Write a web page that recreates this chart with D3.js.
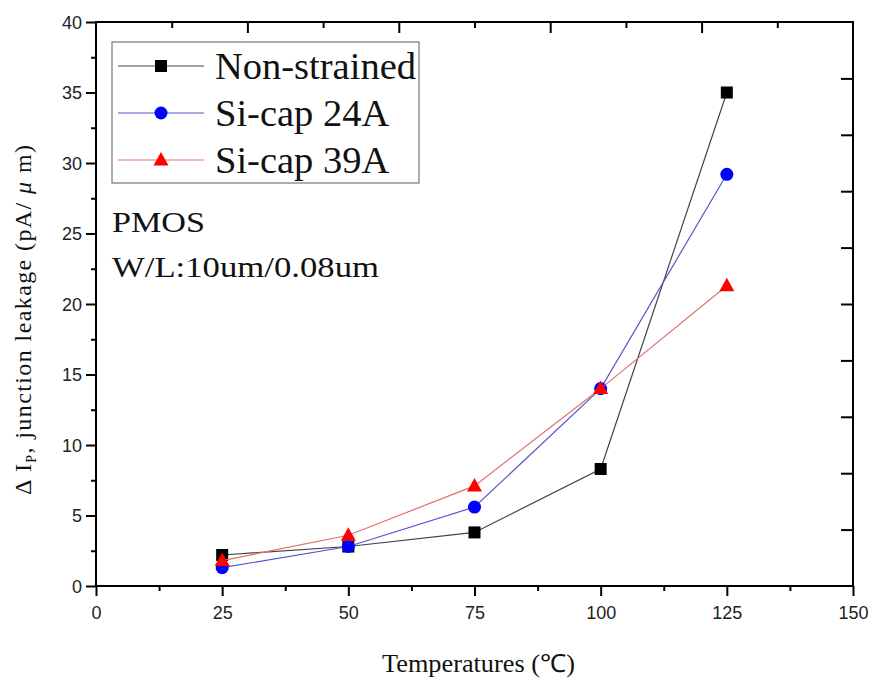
<!DOCTYPE html>
<html><head><meta charset="utf-8">
<script src="https://cdn.jsdelivr.net/npm/d3@7"></script>
<style>body{margin:0;background:#fff}</style>
</head><body>
<svg id="c" width="874" height="680"></svg>
<script>
const temps = [25, 50, 75, 100, 125];
const nonStrained = [2.2, 2.8, 3.8, 8.3, 35.0];
const siCap24 = [1.3, 2.8, 5.6, 14.0, 29.2];
const siCap39 = [1.8, 3.6, 7.1, 14.0, 21.3];
const seriesNames = ["Non-strained", "Si-cap 24A", "Si-cap 39A"];
const xTicks = [0, 25, 50, 75, 100, 125, 150];
const yTicks = [0, 5, 10, 15, 20, 25, 30, 35, 40];

const svg = d3.select("#c");
const L = 96, R = 853, T = 22, B = 586;
const x = d3.scaleLinear().domain([0, 150]).range([L, R]);
const y = d3.scaleLinear().domain([0, 40]).range([B, T]);

const series = [
  {name: seriesNames[0], vals: nonStrained, line: "#444", fill: "#000", shape: "square"},
  {name: seriesNames[1], vals: siCap24, line: "#5555cc", fill: "#0000ff", shape: "circle"},
  {name: seriesNames[2], vals: siCap39, line: "#e07070", fill: "#ff0000", shape: "triangle"}
];

function marker(g, shape, fill, cx, cy) {
  if (shape === "square") {
    g.append("rect").attr("x", cx - 6).attr("y", cy - 6).attr("width", 12).attr("height", 12).attr("fill", fill);
  } else if (shape === "circle") {
    g.append("circle").attr("cx", cx).attr("cy", cy).attr("r", 6.5).attr("fill", fill);
  } else {
    g.append("path").attr("d", `M${cx},${cy-8}L${cx+7.5},${cy+5.5}L${cx-7.5},${cy+5.5}Z`).attr("fill", fill);
  }
}

// Axes
const axisFont = "Arial, 'Liberation Sans', sans-serif";
const gx = svg.append("g").attr("transform", `translate(0,${B})`)
  .call(d3.axisBottom(x).tickValues(xTicks).tickSize(10).tickSizeOuter(0).tickPadding(10));
const gxm = svg.append("g").attr("transform", `translate(0,${B})`)
  .call(d3.axisBottom(x).tickValues(d3.range(12.5, 150, 25)).tickSize(5).tickFormat(""));
const gy = svg.append("g").attr("transform", `translate(${L},0)`)
  .call(d3.axisLeft(y).tickValues(yTicks).tickSize(10).tickSizeOuter(0).tickPadding(4));
const gym = svg.append("g").attr("transform", `translate(${L},0)`)
  .call(d3.axisLeft(y).tickValues(d3.range(2.5, 40, 5)).tickSize(5).tickFormat(""));
// top axis (inward ticks)
const gt = svg.append("g").attr("transform", `translate(0,${T})`)
  .call(d3.axisBottom(x).tickValues(d3.range(30, 150, 30)).tickSize(11).tickFormat("").tickSizeOuter(0));
const gtm = svg.append("g").attr("transform", `translate(0,${T})`)
  .call(d3.axisBottom(x).tickValues(d3.range(15, 150, 30)).tickSize(6).tickFormat("").tickSizeOuter(0));
// right axis (inward ticks)
const gr = svg.append("g").attr("transform", `translate(${R},0)`)
  .call(d3.axisLeft(y).tickValues(d3.range(4, 40, 4)).tickSize(12).tickFormat("").tickSizeOuter(0));

[gx, gxm, gy, gym, gt, gtm, gr].forEach(g => {
  g.selectAll("path.domain").remove();
  g.selectAll("line").attr("stroke", "#000").attr("stroke-width", 2);
  g.selectAll("text").attr("font-family", axisFont).attr("font-size", 18).attr("fill", "#222");
});
gy.selectAll("text").attr("dy", "0.36em");

// frame
svg.append("rect").attr("x", L).attr("y", T).attr("width", R - L).attr("height", B - T)
  .attr("fill", "none").attr("stroke", "#000").attr("stroke-width", 2);

// series
const line = d3.line().x((d, i) => x(temps[i])).y(d => y(d));
series.forEach(s => {
  const g = svg.append("g");
  g.append("path").attr("d", line(s.vals)).attr("fill", "none").attr("stroke", s.line).attr("stroke-width", 1.2);
  s.vals.forEach((v, i) => marker(g, s.shape, s.fill, x(temps[i]), y(v)));
});

// legend
const serif = "'Liberation Serif', 'Times New Roman', serif";
const lg = svg.append("g");
lg.append("rect").attr("x", 112).attr("y", 42).attr("width", 307).attr("height", 141)
  .attr("fill", "#fff").attr("stroke", "#777").attr("stroke-width", 1.2);
series.forEach((s, i) => {
  const cy = 66 + i * 47;
  lg.append("line").attr("x1", 118).attr("x2", 204).attr("y1", cy).attr("y2", cy)
    .attr("stroke", s.line).attr("stroke-width", 1.2);
  marker(lg, s.shape, s.fill, 161, cy);
  lg.append("text").attr("x", 215).attr("y", cy + 13).text(s.name)
    .attr("font-family", serif).attr("font-size", 38.5).attr("fill", "#111");
});

// annotations
svg.append("text").attr("x", 112).attr("y", 232).text("PMOS")
  .attr("font-family", serif).attr("font-size", 30).attr("fill", "#111")
  .attr("textLength", 93).attr("lengthAdjust", "spacingAndGlyphs");
svg.append("text").attr("x", 112).attr("y", 277).text("W/L:10um/0.08um")
  .attr("font-family", serif).attr("font-size", 30).attr("fill", "#111")
  .attr("textLength", 267).attr("lengthAdjust", "spacingAndGlyphs");

// x title
svg.append("text").attr("x", 382).attr("y", 672)
  .attr("font-family", serif).attr("font-size", 25).attr("fill", "#111")
  .attr("textLength", 193).attr("lengthAdjust", "spacingAndGlyphs").text("Temperatures (℃)");

// y title
const yt = svg.append("text").attr("transform", "translate(31,495) rotate(-90)")
  .attr("font-family", serif).attr("font-size", 24).attr("fill", "#111")
  .attr("textLength", 350).attr("lengthAdjust", "spacing");
yt.append("tspan").text("Δ I");
yt.append("tspan").attr("font-size", 14).attr("dy", 5).text("P");
yt.append("tspan").attr("dy", -5).text(", junction leakage (pA/ ");
yt.append("tspan").attr("font-style", "italic").text("μ");
yt.append("tspan").text(" m)");
</script>
</body></html>
